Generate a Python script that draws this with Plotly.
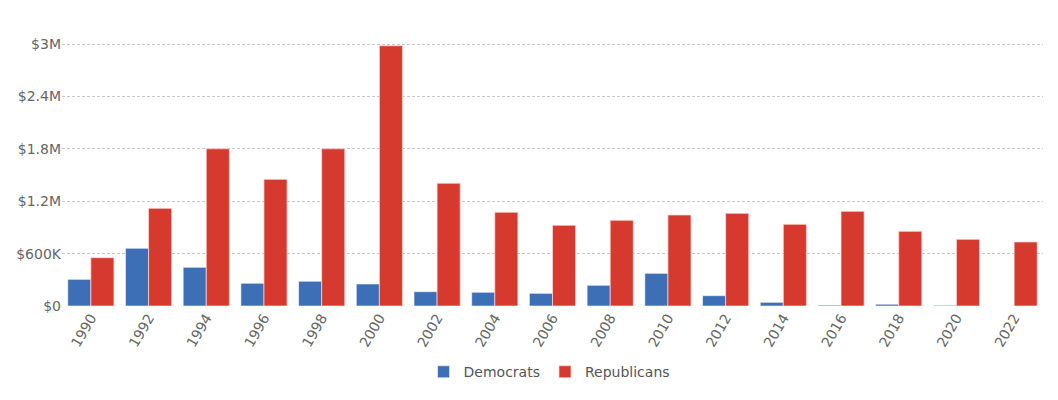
import plotly.graph_objects as go

years = ["1990", "1992", "1994", "1996", "1998", "2000", "2002", "2004", "2006",
         "2008", "2010", "2012", "2014", "2016", "2018", "2020", "2022"]
democrats = [305000, 660000, 443000, 260000, 283000, 252000, 164000, 157000, 145000,
             237000, 374000, 118000, 42000, 10000, 20000, 8000, 0]
republicans = [553000, 1118000, 1800000, 1450000, 1800000, 2980000, 1405000, 1073000, 924000,
               981000, 1042000, 1061000, 935000, 1084000, 855000, 763000, 733000]
tick_vals = [0, 600000, 1200000, 1800000, 2400000, 3000000]
tick_text = ["$0", "$600K", "$1.2M", "$1.8M", "$2.4M", "$3M"]

fig = go.Figure()
fig.add_trace(go.Bar(x=years, y=democrats, name="Democrats",
                     marker=dict(color="#3D6FB6", line=dict(color="rgba(255,255,255,0.55)", width=1))))
fig.add_trace(go.Bar(x=years, y=republicans, name="Republicans",
                     marker=dict(color="#D63A2F", line=dict(color="rgba(255,220,220,0.7)", width=1))))

fig.update_layout(
    width=1050, height=392,
    margin=dict(l=54, r=15, t=34, b=94, autoexpand=False),
    plot_bgcolor="white", paper_bgcolor="white",
    font=dict(family="DejaVu Sans, Verdana, sans-serif", size=14, color="#666666"),
    barmode="group", bargap=0.2, bargroupgap=0,
    showlegend=True,
    legend=dict(orientation="h", x=0.497, xanchor="center", y=-0.19, yanchor="top",
                font=dict(size=14, color="#555555"), itemwidth=30, tracegroupgap=0),
    xaxis=dict(tickangle=-60, showgrid=False, zeroline=False, showline=False,
               automargin=False, tickfont=dict(size=14, color="#666666")),
    yaxis=dict(range=[0, 3022900], tickvals=tick_vals, ticktext=tick_text,
               showgrid=True, gridcolor="#c8c8c8", griddash="3px,2px", gridwidth=1,
               zeroline=False, showline=False, ticks="", ticklen=0, automargin=False,
               tickfont=dict(size=14, color="#666666")),
)
fig.write_html("out.html")
